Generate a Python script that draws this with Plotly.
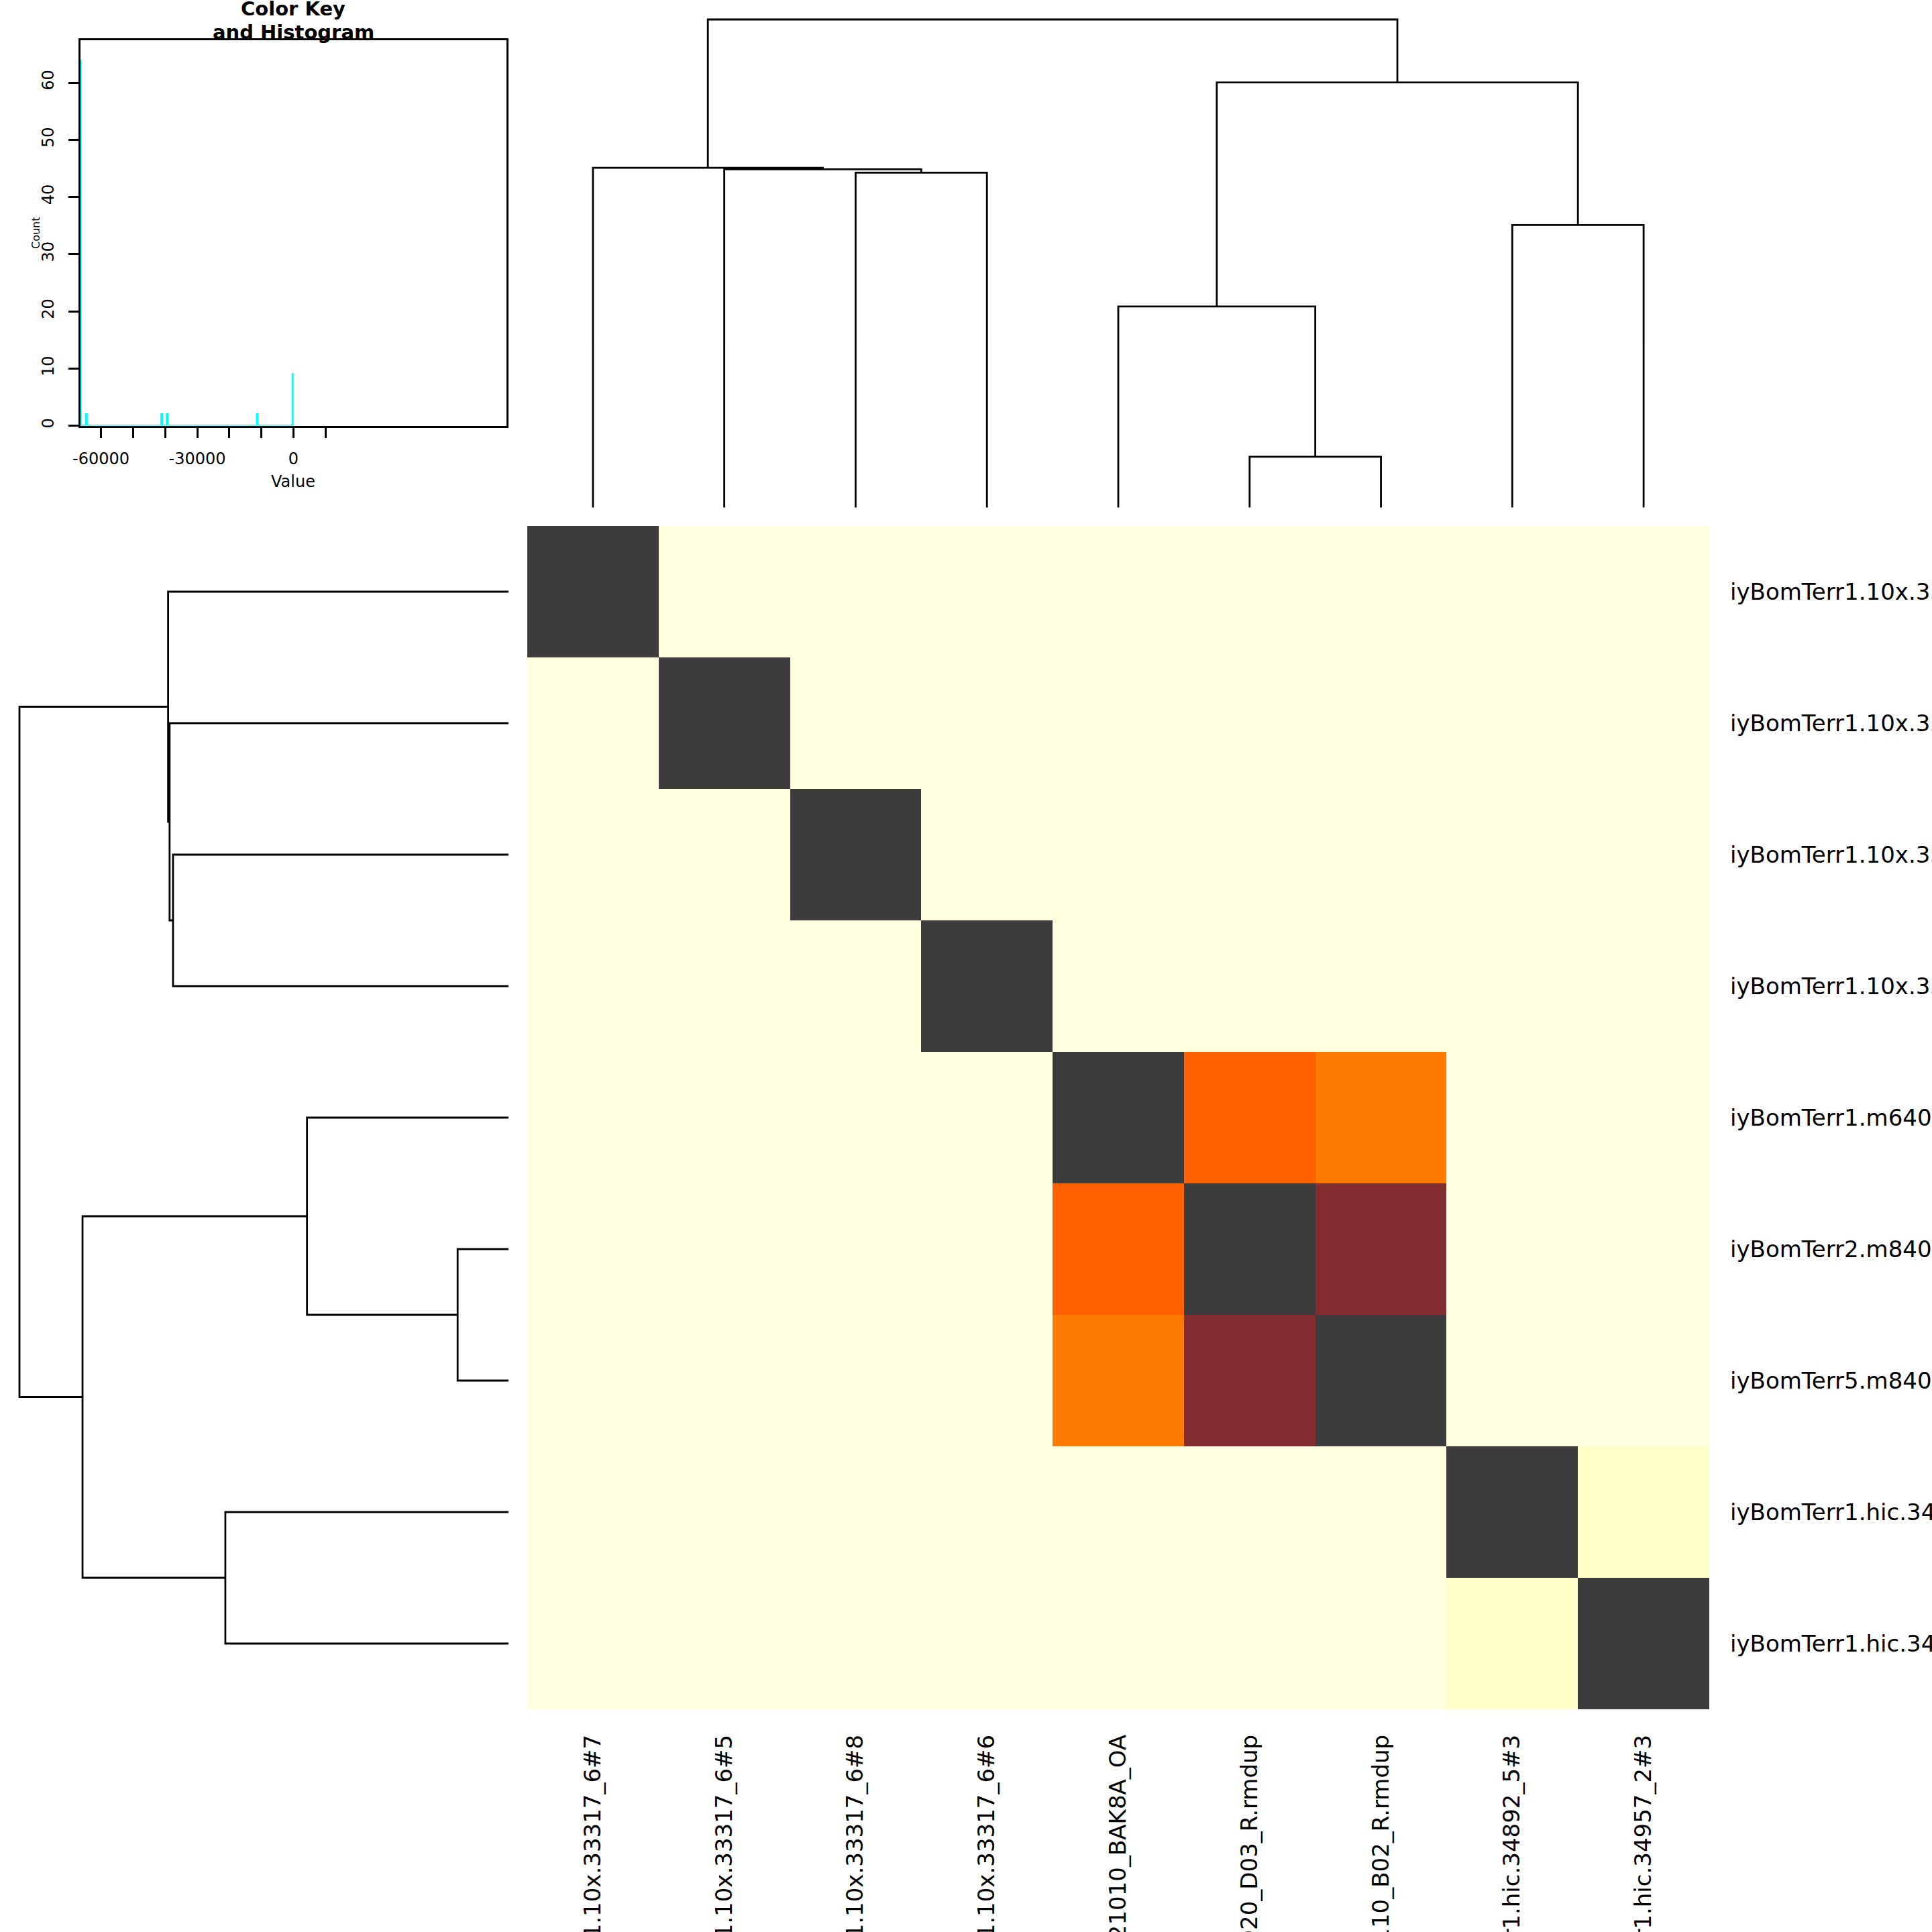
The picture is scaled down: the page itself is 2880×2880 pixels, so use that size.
import plotly.graph_objects as go

# ---------------- data ----------------
labels = [
    "iyBomTerr1.10x.33317_6#7",
    "iyBomTerr1.10x.33317_6#5",
    "iyBomTerr1.10x.33317_6#8",
    "iyBomTerr1.10x.33317_6#6",
    "iyBomTerr1.m64094e_221010_BAK8A_OA",
    "iyBomTerr2.m84047_230920_D03_R.rmdup",
    "iyBomTerr5.m84047_231110_B02_R.rmdup",
    "iyBomTerr1.hic.34892_5#3",
    "iyBomTerr1.hic.34957_2#3",
]

# symmetric matrix (rows top->bottom, cols left->right)
matrix = [
    [0, -66400, -66400, -66400, -66400, -66400, -66400, -66400, -66400],
    [-66400, 0, -66400, -66400, -66400, -66400, -66400, -66400, -66400],
    [-66400, -66400, 0, -66400, -66400, -66400, -66400, -66400, -66400],
    [-66400, -66400, -66400, 0, -66400, -66400, -66400, -66400, -66400],
    [-66400, -66400, -66400, -66400, 0, -39500, -41200, -66400, -66400],
    [-66400, -66400, -66400, -66400, -39500, 0, -11400, -66400, -66400],
    [-66400, -66400, -66400, -66400, -41200, -11400, 0, -66400, -66400],
    [-66400, -66400, -66400, -66400, -66400, -66400, -66400, 0, -64700],
    [-66400, -66400, -66400, -66400, -66400, -66400, -66400, -64700, 0],
]

color_stop_values = [-66400, -64700, -41200, -39500, -11400, 0]
color_stop_colors = ["#FFFFE0", "#FFFFC8", "#FF7A00", "#FF6000", "#832D31", "#3C3C3C"]

# dendrogram merges (same tree for rows and columns); items: ("L", leaf) or ("M", merge index)
merge_left = [("L", 5), ("L", 4), ("L", 7), ("L", 2), ("L", 1), ("L", 0), ("M", 1), ("M", 5)]
merge_right = [("L", 6), ("M", 0), ("L", 8), ("L", 3), ("M", 3), ("M", 4), ("M", 2), ("M", 6)]
merge_height = [10.4, 41.2, 57.9, 68.6, 69.3, 69.6, 87.1, 100.0]

# histogram (color key): bin positions and counts
hist_values = [-66400, -64700, -41200, -39500, -11400, 0]
hist_counts = [64, 2, 2, 2, 2, 9]
hist_bin_width = 250
key_range = [-66400, 66400]
key_ticks = [-60000, -50000, -40000, -30000, -20000, -10000, 0, 10000]
key_tick_text = ["-60000", "", "", "-30000", "", "", "0", ""]
count_ticks = [0, 10, 20, 30, 40, 50, 60]

# ---------------- helpers ----------------
W = 2880
FONT = "DejaVu Sans"


def fx(p):
    return p / W


def fy(p):
    return 1 - p / W


zmin, zmax = min(color_stop_values), max(color_stop_values)
colorscale = [[(v - zmin) / (zmax - zmin), c] for v, c in zip(color_stop_values, color_stop_colors)]

# dendrogram segments in (position, height) space
node_pos, node_h = [], []
seg_p, seg_h = [], []


def child(c):
    kind, i = c
    if kind == "L":
        return float(i), 0.0
    return node_pos[i], node_h[i]


for l, r, h in zip(merge_left, merge_right, merge_height):
    lp, lh = child(l)
    rp, rh = child(r)
    seg_p += [lp, lp, rp, rp, None]
    seg_h += [lh, h, h, rh, None]
    node_pos.append((lp + rp) / 2)
    node_h.append(h)

# histogram step line (first bin sits on the key's left edge)
hx, hy = [], []
first_v, first_c = hist_values[0], hist_counts[0]
hx += [first_v, first_v]
hy += [first_c, 0]
for v, c in zip(hist_values[1:-1], hist_counts[1:-1]):
    hx += [v, v, v + hist_bin_width, v + hist_bin_width]
    hy += [0, c, c, 0]
last_v, last_c = hist_values[-1], hist_counts[-1]
hx += [last_v - hist_bin_width, last_v - hist_bin_width, last_v]
hy += [0, last_c, last_c]

fig = go.Figure()

fig.add_trace(go.Heatmap(
    z=matrix, x=list(range(len(labels))), y=list(range(len(labels))),
    colorscale=colorscale, zmin=zmin, zmax=zmax, showscale=False,
    xaxis="x", yaxis="y", hoverinfo="skip",
))

line_style = dict(color="black", width=2.8)
fig.add_trace(go.Scatter(x=seg_p, y=seg_h, mode="lines", line=line_style,
                         xaxis="x2", yaxis="y2", hoverinfo="skip", showlegend=False))
fig.add_trace(go.Scatter(x=seg_h, y=seg_p, mode="lines", line=line_style,
                         xaxis="x3", yaxis="y3", hoverinfo="skip", showlegend=False))
fig.add_trace(go.Scatter(x=hx, y=hy, mode="lines", line=dict(color="#00FFFF", width=3),
                         xaxis="x4", yaxis="y4", hoverinfo="skip", showlegend=False))

hidden = dict(showgrid=False, zeroline=False, showticklabels=False, ticks="", showline=False,
              automargin=False)
n = len(labels)

px_per_unit_top = (756.6 - 29) / 100.0
px_per_unit_left = (758 - 29) / 100.0
pad = 0.5

fig.update_layout(
    width=W, height=W, autosize=False,
    margin=dict(l=0, r=0, t=0, b=0, pad=0),
    paper_bgcolor="white", plot_bgcolor="white",
    showlegend=False,
    font=dict(family=FONT, color="black"),
    xaxis=dict(domain=[fx(786), fx(2548)], range=[-0.5, n - 0.5], anchor="y",
               tickvals=list(range(n)), ticktext=labels, tickangle=-90, side="bottom",
               ticks="", showgrid=False, zeroline=False, showline=False, automargin=False,
               tickfont=dict(family=FONT, size=34, color="black"), ticklabelstandoff=30),
    yaxis=dict(domain=[fy(2548), fy(784)], range=[n - 0.5, -0.5], anchor="x",
               tickvals=list(range(n)), ticktext=labels, side="right",
               ticks="", showgrid=False, zeroline=False, showline=False, automargin=False,
               tickfont=dict(family=FONT, size=34, color="black"), ticklabelstandoff=30),
    xaxis2=dict(domain=[fx(786), fx(2548)], range=[-0.5, n - 0.5], anchor="y2", **hidden),
    yaxis2=dict(domain=[fy(756.6 + pad * px_per_unit_top), fy(29 - pad * px_per_unit_top)],
                range=[-pad, 100 + pad], anchor="x2", **hidden),
    xaxis3=dict(domain=[fx(29 - pad * px_per_unit_left), fx(758 + pad * px_per_unit_left)],
                range=[100 + pad, -pad], anchor="y3", **hidden),
    yaxis3=dict(domain=[fy(2548), fy(784)], range=[n - 0.5, -0.5], anchor="x3", **hidden),
    xaxis4=dict(domain=[fx(120), fx(755)], range=key_range, anchor="y4",
                tickvals=key_ticks, ticktext=key_tick_text, ticks="outside", ticklen=15,
                tickwidth=3, tickcolor="black", showline=True, linewidth=3, linecolor="black",
                mirror=True, showgrid=False, zeroline=False, automargin=False,
                tickfont=dict(family=FONT, size=24, color="black"), ticklabelstandoff=11),
    yaxis4=dict(domain=[fy(634.5), fy(60)], range=[0, 67.4], anchor="x4",
                tickvals=count_ticks, tickangle=-90, ticks="outside", ticklen=15,
                tickwidth=3, tickcolor="black", showline=True, linewidth=3, linecolor="black",
                mirror=True, showgrid=False, zeroline=False, automargin=False,
                tickfont=dict(family=FONT, size=24, color="black"), ticklabelstandoff=12),
)

annotations = [
    dict(text="<b>Color Key</b>", x=fx(437.5), y=fy(13), font=dict(size=29)),
    dict(text="<b>and Histogram</b>", x=fx(437.5), y=fy(48.5), font=dict(size=29)),
    dict(text="Value", x=fx(437.5), y=fy(718), font=dict(size=24)),
    dict(text="Count", x=fx(54), y=fy(347), font=dict(size=16), textangle=-90),
]
for a in annotations:
    a.update(xref="paper", yref="paper", showarrow=False, xanchor="center", yanchor="middle")
    a["font"].update(family=FONT, color="black")
fig.update_layout(annotations=annotations)

fig.write_html("out.html", config={"displayModeBar": False},
               post_script="document.body.style.margin='0';document.body.style.overflow='hidden';")
